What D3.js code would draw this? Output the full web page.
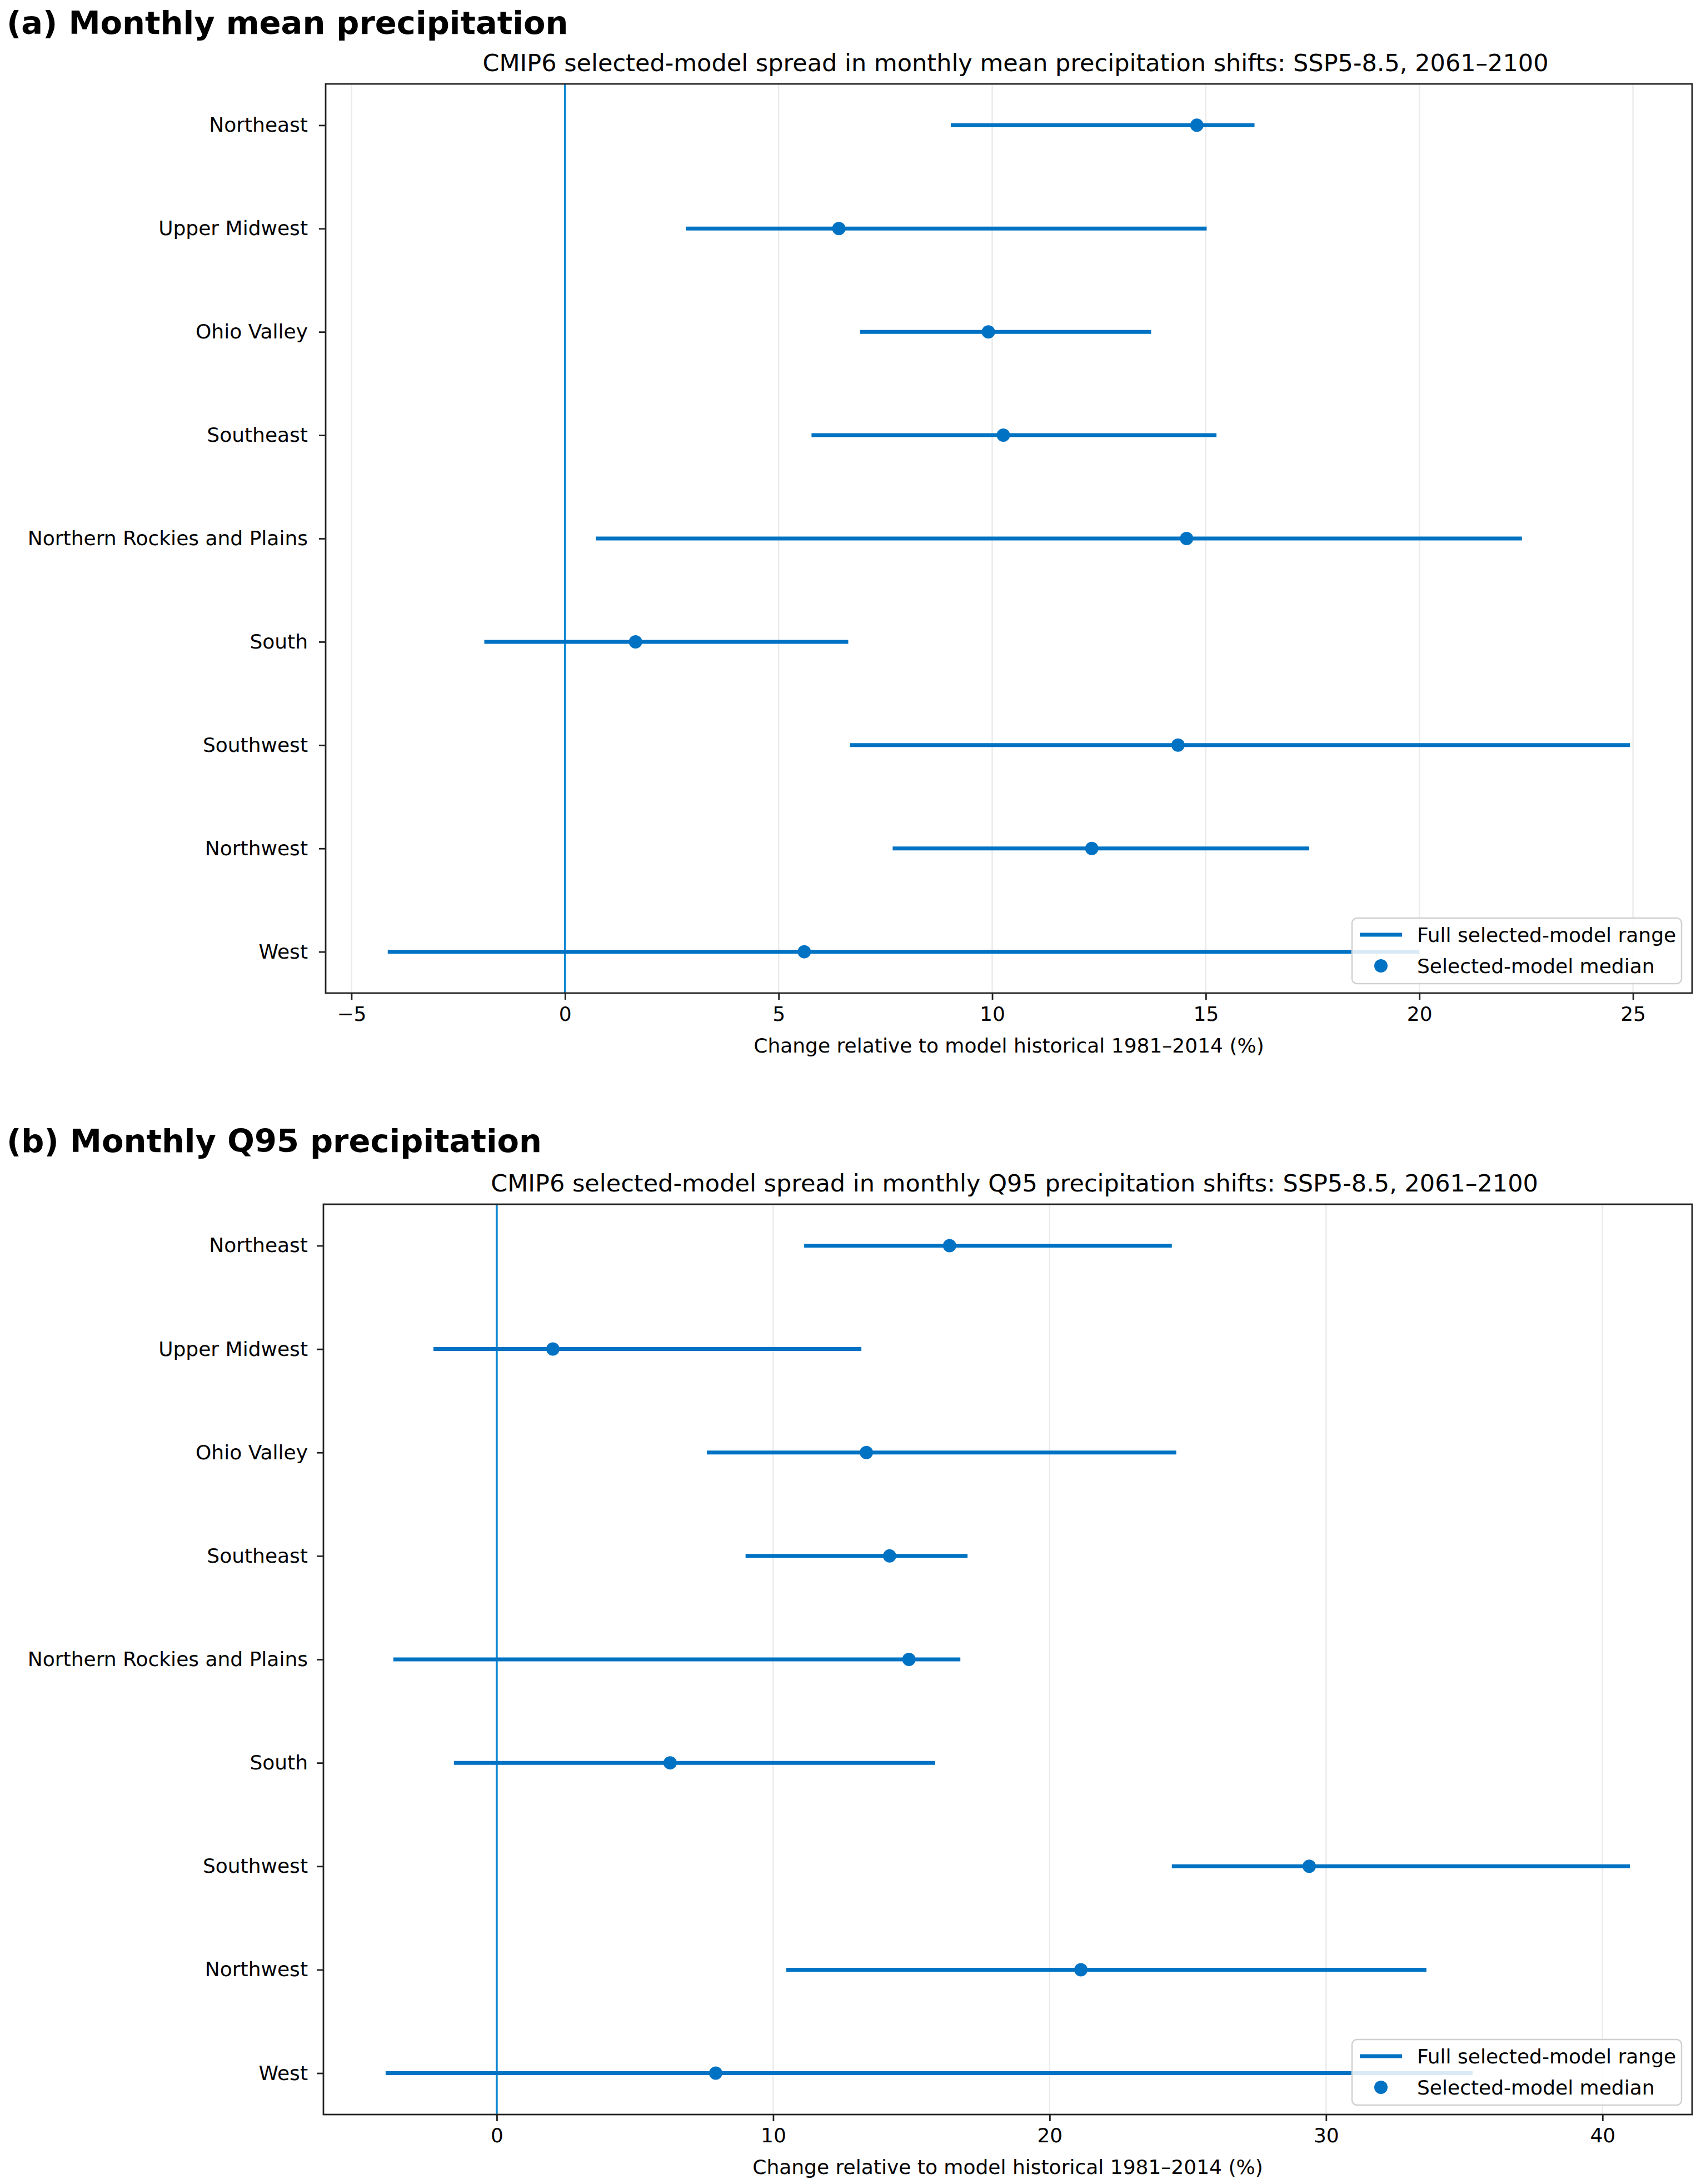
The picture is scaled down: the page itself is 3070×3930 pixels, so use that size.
<!DOCTYPE html>
<html>
<head>
<meta charset="utf-8">
<script src="https://cdn.jsdelivr.net/npm/d3@7"></script>
<style>
  html, body { margin: 0; padding: 0; background: #ffffff; }
  svg { display: block; }
  text { font-family: "DejaVu Sans", sans-serif; fill: #000; }
</style>
</head>
<body>
<svg id="chart" width="3070" height="3930"></svg>
<script>
// ---------------- DATA ----------------
const regions = ["Northeast", "Upper Midwest", "Ohio Valley", "Southeast",
  "Northern Rockies and Plains", "South", "Southwest", "Northwest", "West"];

// (a) Monthly mean precipitation change (%)
const meanLow    = [9.03, 2.83, 6.91, 5.77, 0.72, -1.89, 6.67, 7.67, -4.15];
const meanHigh   = [16.14, 15.02, 13.72, 15.25, 22.40, 6.63, 24.93, 17.42, 20.0];
const meanMedian = [14.79, 6.41, 9.91, 10.26, 14.55, 1.65, 14.35, 12.33, 5.6];
const meanTicks  = [-5, 0, 5, 10, 15, 20, 25];

// (b) Monthly Q95 precipitation change (%)
const q95Low    = [11.12, -2.29, 7.60, 9.00, -3.74, -1.55, 24.42, 10.47, -4.02];
const q95High   = [24.42, 13.19, 24.58, 17.03, 16.77, 15.86, 40.99, 33.63, 35.3];
const q95Median = [16.38, 2.03, 13.37, 14.21, 14.91, 6.27, 29.39, 21.13, 7.92];
const q95Ticks  = [0, 10, 20, 30, 40];

const panelTitles = ["(a) Monthly mean precipitation", "(b) Monthly Q95 precipitation"];
const subTitles = [
  "CMIP6 selected-model spread in monthly mean precipitation shifts: SSP5-8.5, 2061\u20132100",
  "CMIP6 selected-model spread in monthly Q95 precipitation shifts: SSP5-8.5, 2061\u20132100"
];
const xLabel = "Change relative to model historical 1981\u20132014 (%)";
const legendLabels = ["Full selected-model range", "Selected-model median"];

// ---------------- STYLE ----------------
const COLOR = "#0072c3";
const ZERO_COLOR = "#0a86d2";
const svg = d3.select("#chart");

function drawPanel(cfg) {
  const rows = regions.map((r, i) => ({ region: r, lo: cfg.low[i], hi: cfg.high[i], med: cfg.median[i] }));
  const g = svg.append("g");

  // titles
  g.append("text").attr("x", 12).attr("y", cfg.titleY)
    .attr("font-size", 57.5).attr("font-weight", "bold").text(cfg.title);
  g.append("text").attr("x", (cfg.left + cfg.right) / 2 + 12).attr("y", cfg.top - 23)
    .attr("font-size", 43).attr("text-anchor", "middle").text(cfg.subtitle);

  // scales (matplotlib-like 5% margins)
  const mn = d3.min(rows, d => Math.min(d.lo, d.med));
  const mx = d3.max(rows, d => Math.max(d.hi, d.med));
  const pad = (mx - mn) * 0.05;
  const x = d3.scaleLinear().domain([mn - pad, mx + pad]).range([cfg.left, cfg.right]);
  const y = d3.scalePoint().domain(regions).range([cfg.top, cfg.bottom]).padding(0.4);

  // grid
  g.append("g").selectAll("line").data(cfg.ticks).join("line")
    .attr("x1", d => x(d)).attr("x2", d => x(d))
    .attr("y1", cfg.top).attr("y2", cfg.bottom)
    .attr("stroke", "#ebebeb").attr("stroke-width", 2.5);

  // zero line
  g.append("line").attr("x1", x(0)).attr("x2", x(0))
    .attr("y1", cfg.top).attr("y2", cfg.bottom)
    .attr("stroke", ZERO_COLOR).attr("stroke-width", 3.5);

  // ranges
  g.append("g").selectAll("line").data(rows).join("line")
    .attr("x1", d => x(d.lo)).attr("x2", d => x(d.hi))
    .attr("y1", d => y(d.region)).attr("y2", d => y(d.region))
    .attr("stroke", COLOR).attr("stroke-width", 7);

  // medians
  g.append("g").selectAll("circle").data(rows).join("circle")
    .attr("cx", d => x(d.med)).attr("cy", d => y(d.region)).attr("r", 12)
    .attr("fill", COLOR);

  // frame
  g.append("rect").attr("x", cfg.left).attr("y", cfg.top)
    .attr("width", cfg.right - cfg.left).attr("height", cfg.bottom - cfg.top)
    .attr("fill", "none").attr("stroke", "#222").attr("stroke-width", 2.8);

  // x axis
  const xa = g.append("g").attr("transform", `translate(0,${cfg.bottom})`)
    .call(d3.axisBottom(x).tickValues(cfg.ticks).tickSize(12).tickPadding(12).tickFormat(d3.format("d")));
  xa.select(".domain").remove();
  xa.selectAll(".tick line").attr("stroke", "#222").attr("stroke-width", 2.8);
  xa.selectAll(".tick text").attr("font-size", 36).attr("font-family", "DejaVu Sans").attr("fill", "#000");

  // y axis
  const ya = g.append("g").attr("transform", `translate(${cfg.left},0)`)
    .call(d3.axisLeft(y).tickSize(12).tickPadding(cfg.left - 554 - 12));
  ya.select(".domain").remove();
  ya.selectAll(".tick line").attr("stroke", "#222").attr("stroke-width", 2.8);
  ya.selectAll(".tick text").attr("font-size", 36).attr("font-family", "DejaVu Sans").attr("fill", "#000");

  // x label
  g.append("text").attr("x", (cfg.left + cfg.right) / 2).attr("y", cfg.bottom + 107)
    .attr("font-size", 36).attr("text-anchor", "middle").text(xLabel);

  // legend (lower right)
  const lw = 593, lh = 118;
  const lx = cfg.right - 19 - lw, ly = cfg.bottom - 17 - lh;
  const lg = g.append("g");
  lg.append("rect").attr("x", lx).attr("y", ly).attr("width", lw).attr("height", lh)
    .attr("rx", 9).attr("fill", "#ffffff").attr("fill-opacity", 0.85)
    .attr("stroke", "#d0d0d0").attr("stroke-width", 2.5);
  lg.append("line").attr("x1", lx + 14).attr("x2", lx + 90)
    .attr("y1", ly + 30).attr("y2", ly + 30)
    .attr("stroke", COLOR).attr("stroke-width", 7);
  lg.append("circle").attr("cx", lx + 52).attr("cy", ly + 86).attr("r", 12).attr("fill", COLOR);
  lg.selectAll("text.leg").data(legendLabels).join("text").attr("class", "leg")
    .attr("x", lx + 117).attr("y", (d, i) => ly + 30 + i * 56).attr("dy", "0.35em")
    .attr("font-size", 36).text(d => d);
}

drawPanel({
  title: panelTitles[0], subtitle: subTitles[0], titleY: 61,
  low: meanLow, high: meanHigh, median: meanMedian, ticks: meanTicks,
  left: 586, right: 3045, top: 151, bottom: 1787
});
drawPanel({
  title: panelTitles[1], subtitle: subTitles[1], titleY: 2073,
  low: q95Low, high: q95High, median: q95Median, ticks: q95Ticks,
  left: 582, right: 3045, top: 2167, bottom: 3805
});
</script>
</body>
</html>
